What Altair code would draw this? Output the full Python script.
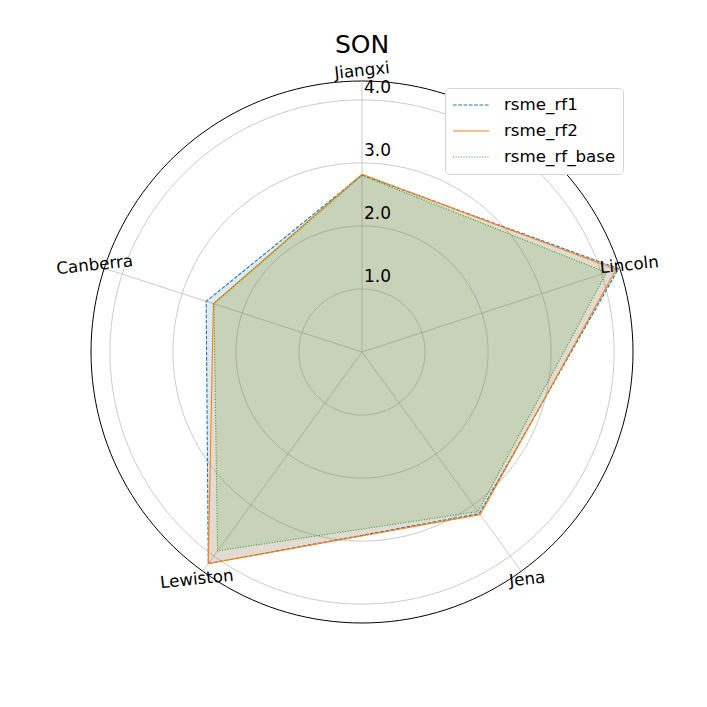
import altair as alt
import pandas as pd

cities = ["Jiangxi", "Lincoln", "Jena", "Lewiston", "Canberra"]
series_names = ["rsme_rf1", "rsme_rf2", "rsme_rf_base"]
rsme_rf1 = [2.81, 4.28, 3.17, 4.15, 2.60]
rsme_rf2 = [2.82, 4.24, 3.19, 4.15, 2.48]
rsme_rf_base = [2.80, 4.08, 3.13, 3.90, 2.47]
tick_values = [1.0, 2.0, 3.0, 4.0]
tick_labels = ["1.0", "2.0", "3.0", "4.0"]
r_max = 4.3
label_r = 4.46
title_text = "SON"

colors = ["#1f77b4", "#ff7f0e", "#2ca02c"]
dashes = [[3.7, 1.6], [1, 0], [1, 1.65]]
FONT = "DejaVu Sans"
GRID = "#c4c4c4"
n = len(cities)

rows = []
for name, vals in zip(series_names, [rsme_rf1, rsme_rf2, rsme_rf_base]):
    for i in range(n + 1):
        k = i % n
        rows.append({"series": name, "city": cities[k], "idx": i, "value": vals[k]})
df = pd.DataFrame(rows)
city_df = pd.DataFrame({"city": cities, "idx": list(range(n))})
tick_df = pd.DataFrame({"v": tick_values, "label": tick_labels})

xs = alt.Scale(domain=[-r_max, r_max], nice=False, zero=False)
ys = alt.Scale(domain=[-r_max, r_max], nice=False, zero=False)
X = alt.X("x:Q", scale=xs, axis=None)
Y = alt.Y("y:Q", scale=ys, axis=None)
ang = f"datum.idx*2*PI/{n}"

layers = []
# rings
for r, col in [(v, GRID) for v in tick_values] + [(r_max, "#000000")]:
    ring = alt.Chart(alt.sequence(0, 362, 2, as_="deg")).transform_calculate(
        x=f"{r}*sin(datum.deg*PI/180)", y=f"{r}*cos(datum.deg*PI/180)"
    ).mark_line(color=col, strokeWidth=0.9 if col != "#000000" else 1.0).encode(
        x=X, y=Y, order="deg:Q"
    )
    layers.append(ring)

# spokes
spokes = alt.Chart(city_df).transform_calculate(
    x="0", y="0", x2=f"{r_max}*sin({ang})", y2=f"{r_max}*cos({ang})"
).mark_rule(color=GRID, strokeWidth=0.9).encode(x=X, y=Y, x2="x2:Q", y2="y2:Q")
layers.append(spokes)

base = alt.Chart(df).transform_calculate(
    x=f"datum.value*sin({ang})", y=f"datum.value*cos({ang})"
)

for name, col in zip(series_names, colors):
    f = base.transform_filter(alt.datum.series == name).mark_line(
        fill=col, fillOpacity=0.15, strokeOpacity=0
    ).encode(x=X, y=Y, order="idx:Q")
    layers.append(f)

lines = base.mark_line(strokeWidth=1.1).encode(
    x=X, y=Y, order="idx:Q",
    color=alt.Color("series:N", scale=alt.Scale(domain=series_names, range=colors), title=None),
    strokeDash=alt.StrokeDash("series:N", scale=alt.Scale(domain=series_names, range=dashes),
                              title=None),
)
layers.append(lines)

ticks = alt.Chart(tick_df).transform_calculate(x="0", y="datum.v").mark_text(
    align="left", baseline="alphabetic", dx=2, dy=-7, fontSize=17, font=FONT, color="#000000"
).encode(x=X, y=Y, text="label:N")
layers.append(ticks)

labels = alt.Chart(city_df).transform_calculate(
    x=f"{label_r}*sin({ang})", y=f"{label_r}*cos({ang})"
).mark_text(align="center", baseline="middle", angle=354, fontSize=16.7, font=FONT,
            color="#000000").encode(x=X, y=Y, text="city:N")
layers.append(labels)

chart = alt.layer(*layers).properties(
    width=542, height=542,
    title=alt.TitleParams(title_text, fontSize=25, font=FONT, fontWeight="normal",
                          anchor="middle", offset=2, color="#000000"),
    padding={"left": 83, "top": 73, "right": 66, "bottom": 70},
    autosize=alt.AutoSizeParams(type="none"),
).configure_view(stroke=None).configure_legend(
    orient="none", legendX=354, legendY=7,
    symbolType="stroke", symbolSize=1296, symbolStrokeWidth=1.1,
    labelFontSize=16.7, labelFont=FONT, labelOffset=14, rowPadding=6,
    clipHeight=20,
    padding=7, fillColor="white", strokeColor="#d5d5d5", cornerRadius=4,
    labelColor="#000000",
)

chart.save("out.html", embed_options={"renderer": "svg", "actions": False})
